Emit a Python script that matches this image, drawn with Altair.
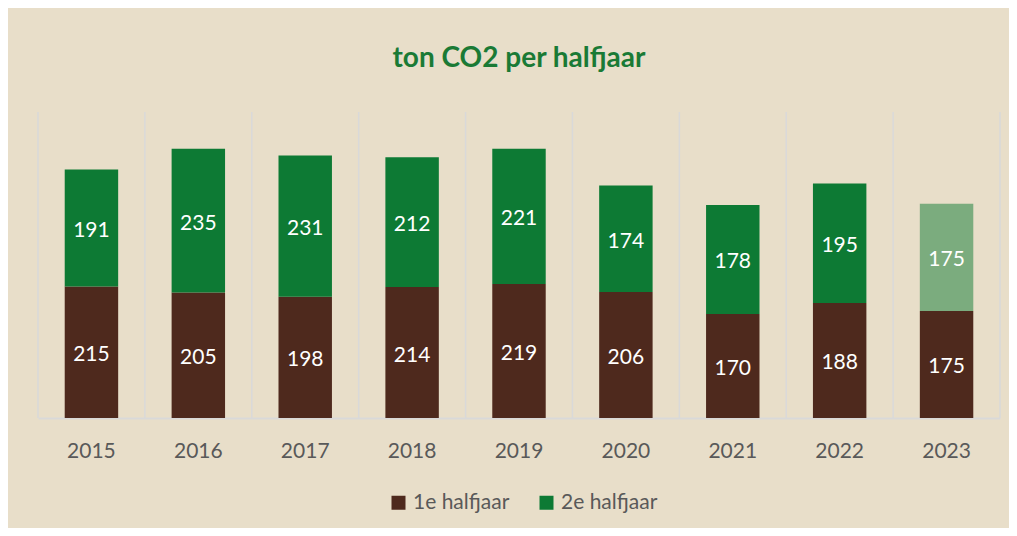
import altair as alt
import pandas as pd

years = ["2015", "2016", "2017", "2018", "2019", "2020", "2021", "2022", "2023"]
first_half = [215, 205, 198, 214, 219, 206, 170, 188, 175]
second_half = [191, 235, 231, 212, 221, 174, 178, 195, 175]
series = ["1e halfjaar", "2e halfjaar"]

rows = []
for y, a, b in zip(years, first_half, second_half):
    rows.append({"year": y, "half": series[0], "value": a, "order": 0, "mid": a / 2})
    rows.append({"year": y, "half": series[1], "value": b, "order": 1, "mid": a + b / 2})
df = pd.DataFrame(rows)

FONT = "Lato"
W, H = 962, 306

xenc = alt.X("year:O", title=None, sort=years,
             scale=alt.Scale(paddingInner=0, paddingOuter=0),
             axis=alt.Axis(labelAngle=0, labelFontSize=21, labelColor="#595959",
                           labelFont=FONT, ticks=False, domainColor="#D9D9D9",
                           domainWidth=2, labelPadding=33, grid=False,
                           bandPosition=0.5, labelAlign="center"))
yscale = alt.Scale(domain=[0, 500])

base = alt.Chart(df)

grid = base.transform_filter("datum.order == 0").mark_rule(color="#D9D9D9", strokeWidth=1.5).encode(
    x=alt.X("year:O", sort=years, bandPosition=0),
    y=alt.value(0), y2=alt.value(H))

grid_right = alt.Chart(pd.DataFrame({"a": [0]})).mark_rule(color="#D9D9D9", strokeWidth=1.5).encode(
    x=alt.value(W), y=alt.value(0), y2=alt.value(H))

bars = base.mark_bar(width=alt.RelativeBandSize(0.5)).encode(
    x=xenc,
    y=alt.Y("value:Q", stack="zero", scale=yscale, axis=None),
    color=alt.Color("half:N", scale=alt.Scale(domain=series, range=["#4E291D", "#0D7A34"]),
                    legend=alt.Legend(title=None, orient="none", direction="horizontal",
                                      legendX=350, legendY=380,
                                      symbolType="square", symbolSize=196, symbolStrokeWidth=0,
                                      labelFontSize=21, labelColor="#595959", labelFont=FONT,
                                      columnPadding=26)),
    order=alt.Order("order:Q"),
    opacity=alt.condition("datum.year == '2023' && datum.order == 1", alt.value(0.5), alt.value(1)),
)

labels = base.mark_text(color="white", fontSize=21, font=FONT, baseline="middle", dy=3).encode(
    x=alt.X("year:O", sort=years),
    y=alt.Y("mid:Q", scale=yscale),
    text="value:Q",
)

chart = alt.layer(grid, grid_right, bars, labels).properties(
    width=W, height=H,
    title=alt.TitleParams("ton CO2 per halfjaar", fontSize=28, font=FONT, fontWeight="bold",
                          color="#1A7A35", anchor="middle", offset=38),
    autosize=alt.AutoSizeParams(type="none"),
    padding={"left": 30, "top": 104, "right": 9, "bottom": 110},
    background="#E8DEC9",
).configure_view(stroke=None)

chart.save("out.html", embed_options={"renderer": "svg", "actions": False})
